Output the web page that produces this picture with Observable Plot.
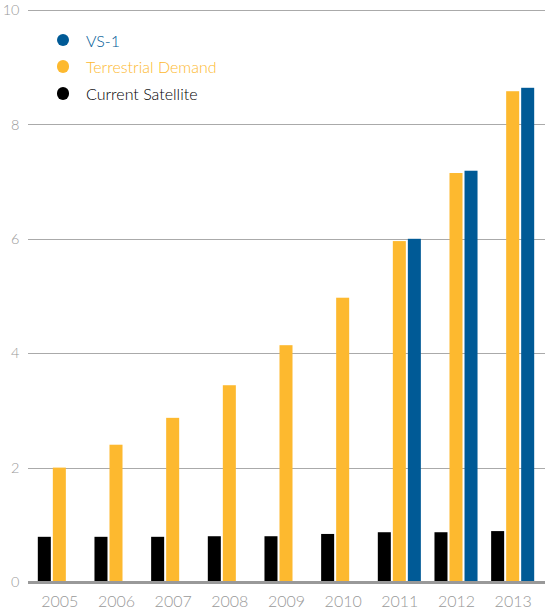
<!DOCTYPE html>
<html><head><meta charset="utf-8">
<script src="https://cdn.jsdelivr.net/npm/d3@7"></script>
<script src="https://cdn.jsdelivr.net/npm/@observablehq/plot@0.6"></script>
<style>
body{margin:0;background:#fff;font-family:Lato,"Open Sans",sans-serif;}
#chart{position:relative;width:553px;height:613px;}
#legend{position:absolute;left:56.5px;top:26.7px;font-size:16px;font-weight:300;font-family:Lato,sans-serif;}
.row{display:flex;align-items:center;height:26.7px;}
.sw{width:12.5px;height:12.5px;border-radius:50%;margin-right:17px;flex:none;}
</style></head><body><div id="chart"><div id="legend"></div></div>
<script>
const years = ["2005","2006","2007","2008","2009","2010","2011","2012","2013"];
const currentSatellite = [0.79,0.79,0.79,0.80,0.80,0.84,0.87,0.87,0.89];
const terrestrialDemand = [2.0,2.4,2.87,3.44,4.14,4.97,5.96,7.15,8.58];
const vs1 = [null,null,null,null,null,null,6.0,7.19,8.64];
const seriesNames = ["Current Satellite","Terrestrial Demand","VS-1"];
const seriesColors = ["#000000","#fdb92f","#005a96"];
const legendOrder = ["VS-1","Terrestrial Demand","Current Satellite"];
const yTicks = [0,2,4,6,8,10];

const seriesValues = [currentSatellite, terrestrialDemand, vs1];
const rows = [];
years.forEach((yr,i)=>{
  seriesNames.forEach((s,j)=>{
    const v = seriesValues[j][i];
    if (v != null) rows.push({year: yr, series: s, value: v});
  });
});

const plot = Plot.plot({
  width:553, height:613, marginTop:10, marginBottom:31, marginLeft:31, marginRight:12,
  style:{fontFamily:"Lato, sans-serif", background:"#fff", overflow:"visible"},
  fx:{domain: years, padding:0, round:false},
  x:{domain: seriesNames, paddingInner:0.1333, paddingOuter:0.4533, round:false},
  y:{domain:[0,10]},
  color:{domain:seriesNames, range:seriesColors},
  marks:[
    Plot.ruleY(yTicks.filter(d=>d>0), {stroke:"#aaa", strokeWidth:1, insetLeft:-3, insetRight:-4, shapeRendering:"crispEdges"}),
    Plot.axisY({ticks:yTicks, tickSize:0, tickPadding:12, label:null, fontSize:14.5, fill:"#999", fontWeight:300, tickFormat:d=>String(d)}),
    Plot.axisFx({anchor:"bottom", tickSize:0, tickPadding:13, label:null, fontSize:16, fill:"#999", fontWeight:300}),
    Plot.axisX({ticks: [], label:null}),
    Plot.barY(rows, {fx:"year", x:"series", y:"value", fill:"series"}),
    Plot.ruleY([0], {stroke:"#999", strokeWidth:3.5, insetLeft:-3, insetRight:-4, shapeRendering:"crispEdges"})
  ]
});
document.getElementById("chart").prepend(plot);

const legend = document.getElementById("legend");
legendOrder.forEach(name=>{
  const c = seriesColors[seriesNames.indexOf(name)];
  const row = document.createElement("div");
  row.className = "row";
  row.innerHTML = `<span class="sw" style="background:${c}"></span><span style="color:${c}">${name}</span>`;
  legend.appendChild(row);
});
</script></body></html>
